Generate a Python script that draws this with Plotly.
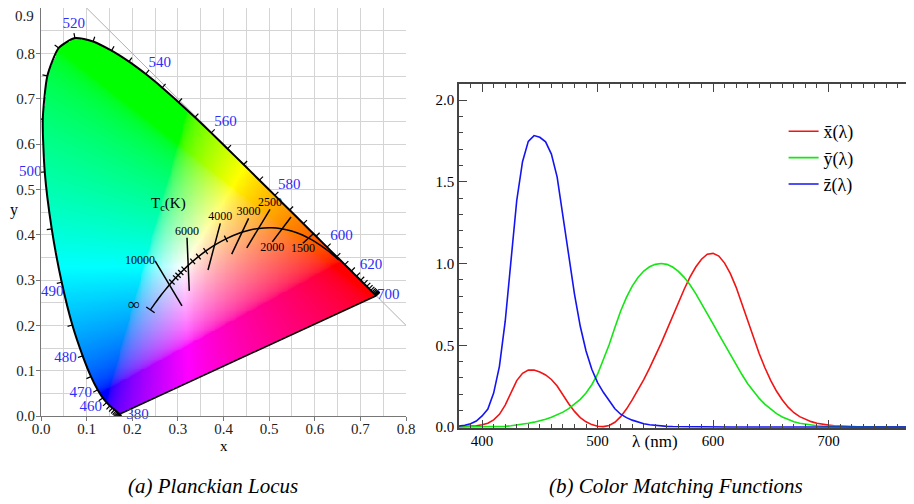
import base64
import struct
import zlib
import numpy as np
import plotly.graph_objects as go

# ---------------- data: spectral locus (CIE 1931 chromaticity) ----------------
loc_wl = list(range(380, 705, 5))
loc_x = [0.1741, 0.1740, 0.1738, 0.1736, 0.1733, 0.1730, 0.1726, 0.1721, 0.1714, 0.1703,
         0.1689, 0.1669, 0.1644, 0.1611, 0.1566, 0.1510, 0.1440, 0.1355, 0.1241, 0.1096,
         0.0913, 0.0687, 0.0454, 0.0235, 0.0082, 0.0039, 0.0139, 0.0389, 0.0743, 0.1142,
         0.1547, 0.1929, 0.2296, 0.2658, 0.3016, 0.3373, 0.3731, 0.4087, 0.4441, 0.4788,
         0.5125, 0.5448, 0.5752, 0.6029, 0.6270, 0.6482, 0.6658, 0.6801, 0.6915, 0.7006,
         0.7079, 0.7140, 0.7190, 0.7230, 0.7260, 0.7283, 0.7300, 0.7311, 0.7320, 0.7327,
         0.7334, 0.7340, 0.7344, 0.7346, 0.7347]
loc_y = [0.0050, 0.0050, 0.0049, 0.0049, 0.0048, 0.0048, 0.0048, 0.0048, 0.0051, 0.0058,
         0.0069, 0.0086, 0.0109, 0.0138, 0.0177, 0.0227, 0.0297, 0.0399, 0.0578, 0.0868,
         0.1327, 0.2007, 0.2950, 0.4127, 0.5384, 0.6548, 0.7502, 0.8120, 0.8338, 0.8262,
         0.8059, 0.7816, 0.7543, 0.7243, 0.6923, 0.6589, 0.6245, 0.5896, 0.5547, 0.5202,
         0.4866, 0.4544, 0.4242, 0.3965, 0.3725, 0.3514, 0.3340, 0.3197, 0.3083, 0.2993,
         0.2920, 0.2859, 0.2809, 0.2770, 0.2740, 0.2717, 0.2700, 0.2689, 0.2680, 0.2673,
         0.2666, 0.2660, 0.2656, 0.2654, 0.2653]

label_wl = [380, 460, 470, 480, 490, 500, 520, 540, 560, 580, 600, 620, 700]

# ---------------- data: Planckian locus ----------------
planck_T = ["inf", 30000, 20000, 15000, 12000, 10000, 9000, 8000, 7500, 7000, 6500, 6000,
            5500, 5000, 4500, 4000, 3500, 3000, 2800, 2500, 2200, 2000, 1800, 1600, 1500,
            1400, 1200, 1000]
planck_x = [0.2399, 0.2501, 0.2565, 0.2637, 0.2719, 0.2807, 0.2869, 0.2952, 0.3004, 0.3064,
            0.3135, 0.3221, 0.3325, 0.3451, 0.3608, 0.3805, 0.4053, 0.4369, 0.4520, 0.4770,
            0.5056, 0.5267, 0.5492, 0.5732, 0.5857, 0.5985, 0.6251, 0.6528]
planck_y = [0.2342, 0.2489, 0.2577, 0.2673, 0.2776, 0.2884, 0.2956, 0.3048, 0.3103, 0.3166,
            0.3237, 0.3318, 0.3411, 0.3516, 0.3636, 0.3768, 0.3907, 0.4041, 0.4086, 0.4137,
            0.4152, 0.4133, 0.4082, 0.3993, 0.3931, 0.3858, 0.3674, 0.3444]
tick_T = [9000, 8000, 7500, 7000, 6500, 5500, 5000, 4500, 3500]

iso_T = ["10000", "6000", "4000", "3000", "2500", "2000", "1500"]
iso_x0 = [0.250, 0.320, 0.393, 0.455, 0.502, 0.548, 0.598]
iso_y0 = [0.342, 0.393, 0.425, 0.436, 0.456, 0.439, 0.403]
iso_x1 = [0.309, 0.325, 0.366, 0.418, 0.451, 0.507, 0.574]
iso_y1 = [0.243, 0.276, 0.322, 0.357, 0.371, 0.384, 0.381]

# ---------------- data: colour matching functions ----------------
cmf_wl = list(range(380, 785, 5))
xbar = [0.001368, 0.002236, 0.004243, 0.007650, 0.014310, 0.023190, 0.043510, 0.077630,
        0.134380, 0.214770, 0.283900, 0.328500, 0.348280, 0.348060, 0.336200, 0.318700,
        0.290800, 0.251100, 0.195360, 0.142100, 0.095640, 0.057950, 0.032010, 0.014700,
        0.004900, 0.002400, 0.009300, 0.029100, 0.063270, 0.109600, 0.165500, 0.225750,
        0.290400, 0.359700, 0.433450, 0.512050, 0.594500, 0.678400, 0.762100, 0.842500,
        0.916300, 0.978600, 1.026300, 1.056700, 1.062200, 1.045600, 1.002600, 0.938400,
        0.854450, 0.751400, 0.642400, 0.541900, 0.447900, 0.360800, 0.283500, 0.218700,
        0.164900, 0.121200, 0.087400, 0.063600, 0.046770, 0.032900, 0.022700, 0.015840,
        0.011359, 0.008111, 0.005790, 0.004109, 0.002899, 0.002049, 0.001440, 0.001000,
        0.000690, 0.000476, 0.000332, 0.000235, 0.000166, 0.000117, 0.000083, 0.000059,
        0.000042]
ybar = [0.000039, 0.000064, 0.000120, 0.000217, 0.000396, 0.000640, 0.001210, 0.002180,
        0.004000, 0.007300, 0.011600, 0.016840, 0.023000, 0.029800, 0.038000, 0.048000,
        0.060000, 0.073900, 0.090980, 0.112600, 0.139020, 0.169300, 0.208020, 0.258600,
        0.323000, 0.407300, 0.503000, 0.608200, 0.710000, 0.793200, 0.862000, 0.914850,
        0.954000, 0.980300, 0.994950, 1.000000, 0.995000, 0.978600, 0.952000, 0.915400,
        0.870000, 0.816300, 0.757000, 0.694900, 0.631000, 0.566800, 0.503000, 0.441200,
        0.381000, 0.321000, 0.265000, 0.217000, 0.175000, 0.138200, 0.107000, 0.081600,
        0.061000, 0.044580, 0.032000, 0.023200, 0.017000, 0.011920, 0.008210, 0.005723,
        0.004102, 0.002929, 0.002091, 0.001484, 0.001047, 0.000740, 0.000520, 0.000361,
        0.000249, 0.000172, 0.000120, 0.000085, 0.000060, 0.000042, 0.000030, 0.000021,
        0.000015]
zbar = [0.006450, 0.010550, 0.020050, 0.036210, 0.067850, 0.110200, 0.207400, 0.371300,
        0.645600, 1.039050, 1.385600, 1.622960, 1.747060, 1.782600, 1.772110, 1.744100,
        1.669200, 1.528100, 1.287640, 1.041900, 0.812950, 0.616200, 0.465180, 0.353300,
        0.272000, 0.212300, 0.158200, 0.111700, 0.078250, 0.057250, 0.042160, 0.029840,
        0.020300, 0.013400, 0.008750, 0.005750, 0.003900, 0.002750, 0.002100, 0.001800,
        0.001650, 0.001400, 0.001100, 0.001000, 0.000800, 0.000600, 0.000340, 0.000240,
        0.000190, 0.000100, 0.000050, 0.000030, 0.000020, 0.000010, 0.0, 0.0,
        0.0, 0.0, 0.0, 0.0, 0.0, 0.0, 0.0, 0.0,
        0.0, 0.0, 0.0, 0.0, 0.0, 0.0, 0.0, 0.0,
        0.0, 0.0, 0.0, 0.0, 0.0, 0.0, 0.0, 0.0,
        0.0]
cmf_names = ["x\u0304(\u03bb)", "y\u0304(\u03bb)", "z\u0304(\u03bb)"]

left_ticks = [0.0, 0.1, 0.2, 0.3, 0.4, 0.5, 0.6, 0.7, 0.8]
right_xticks = [400, 500, 600, 700]
right_yticks = [0.0, 0.5, 1.0, 1.5, 2.0]

# ---------------- styles ----------------
SERIF = "Liberation Serif"
LBL_BLUE = "rgb(45,45,250)"
GRID = "#d4d4d4"
AX = "#777777"

# page has an 8px body margin: figure is 906x496, page pixel p -> figure pixel p-8
W, H = 906, 496
OFF = 8


def PX(p):
    return (p - OFF) / W


def PY(p):
    return 1 - (p - OFF) / H


# ---------------- chromaticity fill image ----------------
lx = np.array(loc_x)
ly = np.array(loc_y)
res = 0.002
nx, ny = 380, 425
xs = (np.arange(nx) + 0.5) * res
ys = (np.arange(ny) + 0.5) * res
GX, GY = np.meshgrid(xs, ys)

inside = np.zeros(GX.shape, dtype=bool)
vx = np.append(lx, lx[0])
vy = np.append(ly, ly[0])
for i in range(len(vx) - 1):
    xi, yi, xj, yj = vx[i], vy[i], vx[i + 1], vy[i + 1]
    if yi == yj:
        continue
    cond = ((yi > GY) != (yj > GY)) & (GX < (xj - xi) * (GY - yi) / (yj - yi) + xi)
    inside ^= cond

Xc, Yc = GX, GY
Zc = 1.0 - GX - GY
R = 3.2406 * Xc - 1.5372 * Yc - 0.4986 * Zc
G = -0.9689 * Xc + 1.8758 * Yc + 0.0415 * Zc
B = 0.0557 * Xc - 0.2040 * Yc + 1.0570 * Zc
rgb = np.clip(np.stack([R, G, B], axis=-1), 0, None)
mx = rgb.max(axis=-1, keepdims=True)
mx[mx <= 0] = 1
rgb = rgb / mx
rgb = np.where(rgb <= 0.0031308, 12.92 * rgb, 1.055 * np.power(rgb, 1 / 2.4) - 0.055)
rgba = np.zeros((ny, nx, 4), dtype=np.uint8)
rgba[..., :3] = np.clip(np.round(rgb * 255), 0, 255).astype(np.uint8)
rgba[..., 3] = np.where(inside, 255, 0).astype(np.uint8)


def png_uri(arr):
    h, w, _ = arr.shape
    raw = b"".join(b"\x00" + arr[r].tobytes() for r in range(h))

    def chunk(tag, data):
        c = struct.pack(">I", len(data)) + tag + data
        return c + struct.pack(">I", zlib.crc32(tag + data) & 0xFFFFFFFF)

    png = (b"\x89PNG\r\n\x1a\n"
           + chunk(b"IHDR", struct.pack(">IIBBBBB", w, h, 8, 6, 0, 0, 0))
           + chunk(b"IDAT", zlib.compress(raw, 9))
           + chunk(b"IEND", b""))
    return "data:image/png;base64," + base64.b64encode(png).decode()


fig = go.Figure()
fig.add_trace(go.Image(source=png_uri(rgba), x0=xs[0], y0=ys[0], dx=res, dy=res,
                       xaxis="x", yaxis="y", hoverinfo="skip"))

# diagonal x + y = 1
fig.add_trace(go.Scatter(x=[0.1, 0.8], y=[0.9, 0.2], mode="lines",
                         line=dict(color="#b0b0b0", width=1), showlegend=False,
                         hoverinfo="skip", xaxis="x", yaxis="y"))

# spectral locus ticks (outward normals)
tick_len = 0.011
tx, ty = [], []
nrm = []
for i in range(len(lx)):
    a = max(i - 1, 0)
    b = min(i + 1, len(lx) - 1)
    dxv, dyv = lx[b] - lx[a], ly[b] - ly[a]
    L = np.hypot(dxv, dyv)
    nxv, nyv = -dyv / L, dxv / L
    nrm.append((nxv, nyv))
    tx += [lx[i], lx[i] + nxv * tick_len, None]
    ty += [ly[i], ly[i] + nyv * tick_len, None]
fig.add_trace(go.Scatter(x=tx, y=ty, mode="lines", line=dict(color="black", width=1.2),
                         showlegend=False, hoverinfo="skip", xaxis="x", yaxis="y"))

# spectral locus and line of purples
fig.add_trace(go.Scatter(x=loc_x, y=loc_y, mode="lines",
                         line=dict(color="black", width=2, shape="spline", smoothing=0.6),
                         showlegend=False, hoverinfo="skip", xaxis="x", yaxis="y"))
fig.add_trace(go.Scatter(x=[loc_x[-1], loc_x[0]], y=[loc_y[-1], loc_y[0]], mode="lines",
                         line=dict(color="black", width=1.6),
                         showlegend=False, hoverinfo="skip", xaxis="x", yaxis="y"))

# wavelength labels (anchors kept inside the axis range so they are drawn)
lab_x, lab_y, lab_pos = [], [], []
off = 0.014
for w in label_wl:
    i = loc_wl.index(w)
    nxv, nyv = nrm[i]
    if w == 380:
        ax_, ay_, pos = loc_x[i] + 0.013, 0.001, "middle right"
    elif w == 700:
        ax_, ay_, pos = loc_x[i] + 0.002, loc_y[i], "middle right"
    elif w == 490:
        ax_, ay_, pos = loc_x[i] + 0.004, loc_y[i] - 0.021, "middle left"
    elif nxv < -0.3:
        ax_, ay_, pos = loc_x[i] + nxv * off, loc_y[i] + nyv * off, "middle left"
    elif abs(nxv) < 0.3:
        ax_, ay_, pos = loc_x[i] + nxv * off, loc_y[i] + nyv * off, "top center"
    else:
        ax_, ay_, pos = loc_x[i] + nxv * off * 0.7, loc_y[i] + nyv * off * 0.7, "top right"
    lab_x.append(max(ax_, 0.001))
    lab_y.append(max(ay_, 0.001))
    lab_pos.append(pos)
fig.add_trace(go.Scatter(x=lab_x, y=lab_y, mode="text", text=[str(w) for w in label_wl],
                         textposition=lab_pos, cliponaxis=False,
                         textfont=dict(family=SERIF, size=15, color=LBL_BLUE),
                         showlegend=False, hoverinfo="skip", xaxis="x", yaxis="y"))

# Planckian locus
fig.add_trace(go.Scatter(x=planck_x, y=planck_y, mode="lines",
                         line=dict(color="black", width=1.5, shape="spline", smoothing=0.8),
                         showlegend=False, hoverinfo="skip", xaxis="x", yaxis="y"))

# small temperature ticks + cap at infinity
px_, py_ = [], []
small = 0.008
for T in tick_T + ["inf"]:
    i = planck_T.index(T)
    a = max(i - 1, 0)
    b = min(i + 1, len(planck_x) - 1)
    dxv, dyv = planck_x[b] - planck_x[a], planck_y[b] - planck_y[a]
    L = np.hypot(dxv, dyv)
    nxv, nyv = -dyv / L, dxv / L
    h = small * (1.4 if T == "inf" else 1.0)
    px_ += [planck_x[i] - nxv * h, planck_x[i] + nxv * h, None]
    py_ += [planck_y[i] - nyv * h, planck_y[i] + nyv * h, None]
fig.add_trace(go.Scatter(x=px_, y=py_, mode="lines", line=dict(color="black", width=1.3),
                         showlegend=False, hoverinfo="skip", xaxis="x", yaxis="y"))

# isotherms
ix, iy = [], []
for k in range(len(iso_T)):
    ix += [iso_x0[k], iso_x1[k], None]
    iy += [iso_y0[k], iso_y1[k], None]
fig.add_trace(go.Scatter(x=ix, y=iy, mode="lines", line=dict(color="black", width=1.5),
                         showlegend=False, hoverinfo="skip", xaxis="x", yaxis="y"))

iso_pos = ["middle left", "top center", "top center", "top center", "top center",
           "bottom center", "bottom center"]
iso_lx = [iso_x0[k] if iso_pos[k] != "bottom center" else iso_x1[k] for k in range(len(iso_T))]
iso_ly = [iso_y0[k] if iso_pos[k] != "bottom center" else iso_y1[k] for k in range(len(iso_T))]
fig.add_trace(go.Scatter(x=iso_lx, y=iso_ly, mode="text", text=iso_T, textposition=iso_pos,
                         cliponaxis=False,
                         textfont=dict(family=SERIF, size=12, color="black"),
                         showlegend=False, hoverinfo="skip", xaxis="x", yaxis="y"))

# ---------------- right panel: colour matching functions ----------------
for vals, name, col in zip([xbar, ybar, zbar], cmf_names,
                           ["#f01414", "#14e614", "#1414f0"]):
    fig.add_trace(go.Scatter(x=cmf_wl, y=vals, mode="lines", name=name,
                             line=dict(color=col, width=1.6),
                             xaxis="x2", yaxis="y2", cliponaxis=True))


def ann(text, x, y, size, color="black"):
    return dict(text=text, x=PX(x), y=PY(y), xref="paper", yref="paper",
                xanchor="center", yanchor="middle", showarrow=False,
                font=dict(family=SERIF, size=size, color=color))


fig.update_layout(
    width=W, height=H,
    margin=dict(l=0, r=0, t=0, b=0, autoexpand=False),
    paper_bgcolor="white", plot_bgcolor="white",
    font=dict(family=SERIF, size=15, color="black"),
    xaxis=dict(domain=[PX(41), PX(406)], range=[0, 0.8],
               tickvals=left_ticks, ticktext=["%.1f" % v for v in left_ticks],
               showline=True, linecolor=AX, linewidth=1, ticks="outside", ticklen=4,
               tickcolor=AX, showgrid=True, gridcolor=GRID, zeroline=False,
               minor=dict(dtick=0.05, showgrid=True, gridcolor=GRID, ticks=""),
               tickfont=dict(family=SERIF, size=15, color="#222"), automargin=False,
               ticklabelstandoff=-5),
    yaxis=dict(domain=[PY(416), 1.0], range=[0, 0.9],
               tickvals=left_ticks, ticktext=["%.1f" % v for v in left_ticks],
               showline=True, linecolor=AX, linewidth=1, ticks="outside", ticklen=4,
               tickcolor=AX, showgrid=True, gridcolor=GRID, zeroline=False,
               minor=dict(dtick=0.05, showgrid=True, gridcolor=GRID, ticks=""),
               tickfont=dict(family=SERIF, size=15, color="#222"), anchor="x",
               scaleanchor=False, autorange=False, automargin=False,
               ticklabelstandoff=-2),
    xaxis2=dict(domain=[PX(459), 1.0], range=[380, 774], anchor="y2",
                tickvals=right_xticks, showline=True, linecolor="#444",
                linewidth=1.5, mirror="ticks", ticks="inside", ticklen=8,
                tickcolor="#444", tickwidth=1.2, showgrid=False, zeroline=False,
                minor=dict(dtick=10, ticks="inside", ticklen=4, tickcolor="#444"),
                tickfont=dict(family=SERIF, size=15, color="black"), automargin=False,
                ticklabelstandoff=-2),
    yaxis2=dict(domain=[PY(428), PY(84)], range=[-0.006, 2.098], anchor="x2",
                tickvals=right_yticks, ticktext=["%.1f" % v for v in right_yticks],
                showline=True, linecolor="#444", linewidth=1.5, mirror="ticks",
                ticks="inside", ticklen=8, tickcolor="#444", tickwidth=1.2,
                showgrid=False, zeroline=False,
                minor=dict(dtick=0.1, ticks="inside", ticklen=4, tickcolor="#444"),
                tickfont=dict(family=SERIF, size=15, color="black"), automargin=False),
    legend=dict(x=PX(783.6), y=PY(113), xanchor="left", yanchor="top",
                bgcolor="rgba(0,0,0,0)", font=dict(family=SERIF, size=18),
                tracegroupgap=0),
    annotations=[
        dict(text="T<sub>c</sub>(K)", x=0.279, y=0.467, xref="x", yref="y",
             showarrow=False, font=dict(family=SERIF, size=15, color="black")),
        dict(text="\u221e", x=0.203, y=0.247, xref="x", yref="y",
             showarrow=False, font=dict(family=SERIF, size=17, color="black")),
        ann("0.9", 24, 16, 15, "#222"),
        ann("x", 224, 446, 15),
        ann("y", 14, 210, 16),
        ann("\u03bb (nm)", 655, 441, 17),
        ann("<i>(a) Planckian Locus</i>", 213, 486, 21),
        ann("<i>(b) Color Matching Functions</i>", 676, 486, 21),
    ],
)

fig.write_html("out.html")
